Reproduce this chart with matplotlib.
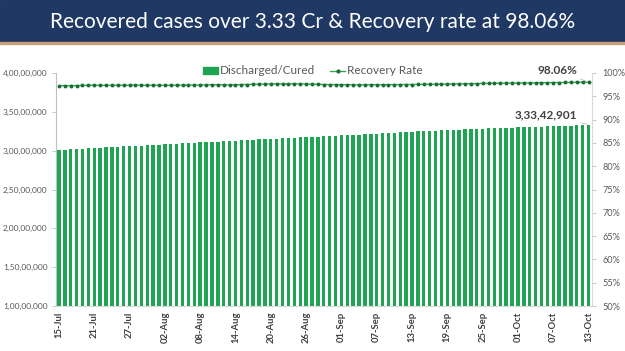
import matplotlib
matplotlib.use('Agg')
import matplotlib.pyplot as plt
import pandas as pd
from matplotlib.patches import Patch, Rectangle
from matplotlib.lines import Line2D
from matplotlib.ticker import FixedLocator, FuncFormatter

plt.rcParams['font.family'] = ['Lato', 'DejaVu Sans']

title = "Recovered cases over 3.33 Cr & Recovery rate at 98.06%"
dates = pd.date_range('2021-07-15', '2021-10-13', freq='D')
date_labels = [d.strftime('%d-%b') for d in dates]

# cumulative recovered, in lakh
recovered_lakh = [
    301.05, 301.44, 301.84, 302.27, 302.69, 303.08, 303.45, 303.90, 304.29, 304.68,
    305.03, 305.43, 305.79, 306.21, 306.63, 307.01, 307.44,
    307.81, 308.21, 308.57, 308.96, 309.33, 309.74, 310.15, 310.55, 310.99, 311.39,
    311.80, 312.20, 312.60, 312.97, 313.38,
    313.77, 314.16, 314.53, 314.90, 315.26, 315.61, 315.97, 316.36, 316.73, 317.11,
    317.51, 317.88, 318.21, 318.52, 318.88, 319.24,
    319.59, 320.00, 320.41, 320.81, 321.21, 321.59, 321.99, 322.40, 322.82, 323.21,
    323.63, 323.98, 324.39, 324.79, 325.22,
    325.56, 325.90, 326.24, 326.56, 326.88, 327.15, 327.49, 327.83, 328.15, 328.48,
    328.76, 329.03, 329.29, 329.51, 329.75,
    329.99, 330.24, 330.50, 330.79, 331.09, 331.34, 331.58, 331.83, 332.10, 332.36,
    332.71, 333.20, 333.42901,
]

recovery_rate = [
    97.28, 97.28, 97.29, 97.31, 97.32, 97.36, 97.37, 97.35, 97.35, 97.35,
    97.36, 97.38, 97.39, 97.39, 97.38, 97.37, 97.37,
    97.36, 97.36, 97.37, 97.39, 97.40, 97.40, 97.40, 97.42, 97.45, 97.48,
    97.48, 97.46, 97.46, 97.46, 97.52, 97.53, 97.57, 97.60, 97.64, 97.65,
    97.67, 97.66, 97.65, 97.68, 97.66, 97.63, 97.60, 97.57, 97.53, 97.51, 97.51,
    97.48, 97.48, 97.47, 97.46, 97.46, 97.48, 97.48, 97.48, 97.49, 97.51,
    97.52, 97.53, 97.53, 97.55, 97.56, 97.57, 97.59, 97.60, 97.63, 97.64,
    97.68, 97.69, 97.71, 97.73, 97.76, 97.77, 97.78, 97.81, 97.83, 97.84,
    97.85, 97.86, 97.87, 97.89, 97.91, 97.93, 97.95, 97.95, 97.97, 97.98,
    98.01, 98.04, 98.06,
]

left_ticks = [10000000, 15000000, 20000000, 25000000, 30000000, 35000000, 40000000]
right_ticks = [50, 55, 60, 65, 70, 75, 80, 85, 90, 95, 100]
label_step = 6

recovered = [v * 1e5 for v in recovered_lakh]
x = list(range(len(dates)))


def indian(n):
    s = str(int(round(n)))
    last3, rest = s[-3:], s[:-3]
    parts = []
    while len(rest) > 2:
        parts.insert(0, rest[-2:])
        rest = rest[:-2]
    if rest:
        parts.insert(0, rest)
    return ','.join(parts + [last3])


W, H = 625, 351
fig = plt.figure(figsize=(W / 100, H / 100), dpi=100)
fig.patches.append(Rectangle((0, 1 - 42 / H), 1, 42 / H, transform=fig.transFigure,
                             color='#1F3864', zorder=0))
fig.patches.append(Rectangle((0, 1 - 44 / H), 1, 2 / H, transform=fig.transFigure,
                             color='#C8A077', zorder=0))
fig.text(0.5, 1 - 22 / H, title, color='white', fontsize=15, ha='center', va='center')

ax = fig.add_axes([56 / W, 1 - 306 / H, (591.5 - 56) / W, (306 - 73) / H])
bar_color = '#1FA454'
ax.bar(x, recovered, width=0.58, color=bar_color, zorder=2)
ax.set_xlim(-0.5, len(x) - 0.5)
ax.set_ylim(left_ticks[0], left_ticks[-1])
ax.yaxis.set_major_locator(FixedLocator(left_ticks))
ax.yaxis.set_major_formatter(FuncFormatter(lambda v, p: indian(v)))
ax.set_xticks(x[::label_step])
ax.set_xticklabels(date_labels[::label_step], rotation=90, fontsize=6.8,
                   fontweight='bold', color='#404040')
ax.tick_params(axis='x', length=0, pad=4)
ax.tick_params(axis='y', labelsize=6.0, colors='#595959', length=3, width=0.6,
               color='#BFBFBF', pad=3)
for s in ['top', 'right']:
    ax.spines[s].set_visible(False)
ax.spines['left'].set_color('#BFBFBF')
ax.spines['bottom'].set_color('#D9D9D9')

ax2 = ax.twinx()
ax2.plot(x, recovery_rate, color='#2FAA55', lw=1.0, marker='o', markersize=1.8,
         markerfacecolor='#1B6E35', markeredgecolor='#1B6E35', zorder=3)
ax2.set_ylim(right_ticks[0], right_ticks[-1])
ax2.yaxis.set_major_locator(FixedLocator(right_ticks))
ax2.yaxis.set_major_formatter(FuncFormatter(lambda v, p: f"{int(v)}%"))
ax2.tick_params(axis='y', labelsize=6.6, colors='#595959', length=3, width=0.6,
                color='#BFBFBF', pad=5)
for s in ['top', 'left', 'bottom']:
    ax2.spines[s].set_visible(False)
ax2.spines['right'].set_color('#D9D9D9')

ax2.annotate(f"{recovery_rate[-1]:.2f}%", xy=(x[-1], recovery_rate[-1]),
             xytext=(577, H - 70), textcoords='figure pixels', ha='right', va='center',
             fontsize=8.5, fontweight='bold', color='#404040',
             arrowprops=dict(arrowstyle='-', color='#BFBFBF', lw=0.6,
                             shrinkA=1, shrinkB=1))
ax.annotate(indian(recovered[-1]), xy=(x[-1], recovered[-1]),
            xytext=(577, H - 115), textcoords='figure pixels', ha='right', va='center',
            fontsize=8.5, fontweight='bold', color='#404040',
            arrowprops=dict(arrowstyle='-', color='#BFBFBF', lw=0.6,
                            shrinkA=1, shrinkB=1))

handles = [Patch(color=bar_color, label='Discharged/Cured'),
           Line2D([], [], color='#2FAA55', lw=1, marker='o', markersize=2,
                  markerfacecolor='#1B6E35', markeredgecolor='#1B6E35',
                  label='Recovery Rate')]
fig.legend(handles=handles, loc='center', bbox_to_anchor=(313 / W, 1 - 71 / H),
           ncol=2, frameon=False, fontsize=8.5, handlelength=1.2, handleheight=0.6,
           columnspacing=1.3, handletextpad=0.2, labelcolor='#595959')

fig.savefig('out.png', dpi=100)
